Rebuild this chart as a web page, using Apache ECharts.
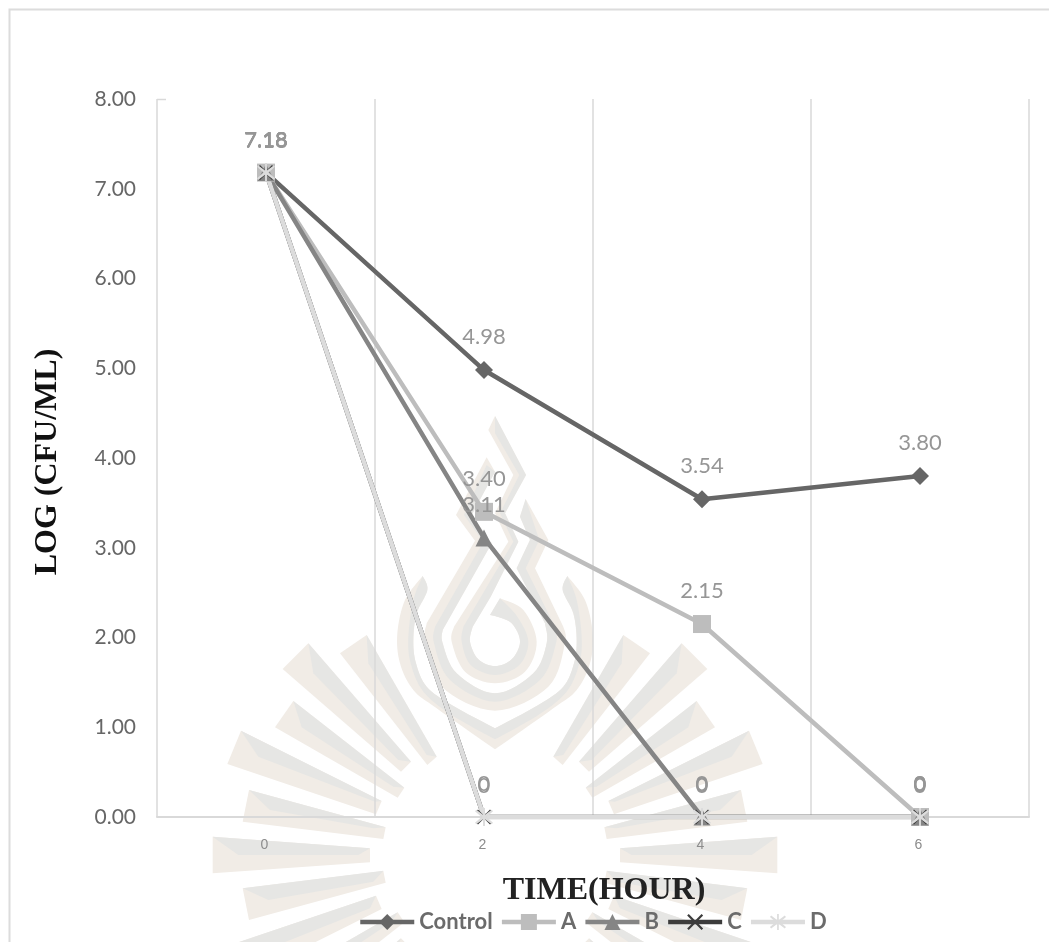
<!DOCTYPE html>
<html>
<head>
<meta charset="utf-8">
<style>html,body{margin:0;padding:0;background:#fff}#chart{width:1049px;height:942px}</style>
<script src="https://cdn.jsdelivr.net/npm/echarts@6/dist/echarts.min.js"></script>
</head>
<body>
<div id="chart"></div>
<script>
// Viable count over time for a control and four treatments
const hours = ['0', '2', '4', '6'];
const control = [7.18, 4.98, 3.54, 3.80];
const seriesA = [7.18, 3.40, 2.15, 0];
const seriesB = [7.18, 3.11, 0, 0];
const seriesC = [7.18, 0, 0, 0];
const seriesD = [7.18, 0, 0, 0];

const FONT = 'Lato, "Open Sans", sans-serif';
const BEIGE = '#f1ece6';
const GREY = '#e6e6e4';
const CENTER_X = 495;
const RAY_MID_Y = 855;

// Cross and asterisk markers, drawn as thin filled strokes
const CROSS = 'path://M1,0 L5,4 L9,0 L10,1 L6,5 L10,9 L9,10 L5,6 L1,10 L0,9 L4,5 L0,1 Z';
const STAR = 'path://M4.5,0 H5.5 V3.8 L9,1 L9.7,1.8 L6.3,5 L9.7,8.2 L9,9 L5.5,6.2 V10 H4.5 V6.2 L1,9 L0.3,8.2 L3.7,5 L0.3,1.8 L1,1 L4.5,3.8 Z';

// Emblem behind the plot: spline helper for its curved outlines
function spline(pts) {
  const steps = 8, out = [];
  for (let i = 0; i < pts.length - 1; i++) {
    const p0 = pts[Math.max(i - 1, 0)], p1 = pts[i], p2 = pts[i + 1], p3 = pts[Math.min(i + 2, pts.length - 1)];
    for (let k = 0; k < steps; k++) {
      const t = k / steps, t2 = t * t, t3 = t2 * t;
      out.push([0, 1].map(a => 0.5 * (2 * p1[a] + (p2[a] - p0[a]) * t + (2 * p0[a] - 5 * p1[a] + 4 * p2[a] - p3[a]) * t2 + (3 * p1[a] - p0[a] - 3 * p2[a] + p3[a]) * t3)));
    }
  }
  out.push(pts[pts.length - 1]);
  return out;
}
const flamePx = pts => pts.map(p => [380 + p[0] / 3, 400 + p[1] / 3]);
const rayPx = pts => pts.map(p => [200 + p[0] / 3, 620 + p[1] / 3]);
const mirrorX = pts => pts.map(p => [2 * CENTER_X - p[0], p[1]]);
const mirrorY = pts => pts.map(p => [p[0], 2 * RAY_MID_Y - p[1]]);
const poly = (points, fill) => ({ type: 'polygon', silent: true, shape: { points }, style: { fill } });

// Fan of rays: each is a beige wedge with a grey facet along its upper edge
const rays = [
  [[500,45],[420,100],[682,435],[710,410]],
  [[325,70],[248,147],[603,455],[633,425]],
  [[280,243],[225,322],[593,533],[613,503]],
  [[123,332],[82,432],[528,583],[545,543]],
  [[147,510],[128,605],[550,657],[557,622]],
  [[38,650],[38,760],[510,727],[510,685]]
];
const rayFacets = [
  [[500,45],[505,130],[680,405],[710,410]],
  [[325,70],[340,160],[595,420],[633,425]],
  [[280,243],[305,322],[580,500],[613,503]],
  [[123,332],[175,410],[525,545],[545,543]],
  [[147,510],[210,570],[520,625],[557,622]],
  [[38,650],[115,705],[475,705],[510,685]]
];
const lowerFacets = [
  [[128,805],[205,840],[520,785],[550,752]],
  [[82,978],[170,1000],[510,865],[528,827]],
  [[225,1088],[300,1090],[575,905],[593,877]],
  [[248,1263],[340,1250],[590,985],[603,955]]
];

function emblem() {
  const els = [];
  const addBoth = (pts, fill) => { els.push(poly(pts, fill), poly(mirrorX(pts), fill)); };
  rays.forEach((r, i) => {
    const body = rayPx(r);
    addBoth(body, BEIGE);
    addBoth(rayPx(rayFacets[i]), GREY);
    // the lower half of the fan repeats the upper wedges
    if (i >= 1 && i <= 4) addBoth(mirrorY(body), BEIGE);
  });
  lowerFacets.forEach(f => addBoth(rayPx(f), GREY));

  // Outer ring, two halves meeting at the lower point
  const ringOuter = [[128,528],[75,600],[52,700],[60,790],[100,870],[170,925],[345,1048]];
  const ringInner = [[345,985],[215,915],[140,860],[108,790],[100,720],[110,640],[142,570],[128,528]];
  const ringMid = [[128,528],[100,600],[85,710],[92,790],[130,875],[215,945],[345,1018]];
  addBoth(flamePx(spline(ringOuter).concat(spline(ringInner))), BEIGE);
  addBoth(flamePx(spline(ringMid).concat(spline(ringInner))), GREY);

  // Middle band of the flame
  const midOuter = [[437,297],[505,420],[465,505],[550,680]]
    .concat(spline([[550,680],[555,730],[505,860],[345,932],[185,860],[135,730],[140,670]]))
    .concat([[285,422],[228,345],[320,172]]);
  const midInner = [[345,215],[275,345],[335,430],[188,690]]
    .concat(spline([[188,690],[188,730],[230,820],[345,880],[460,820],[500,730],[495,670]]))
    .concat([[410,505],[450,420],[420,350],[437,297]]);
  const midFacet = [[437,297],[478,420],[437,505],[525,680]]
    .concat(spline([[525,680],[528,730],[480,840],[345,905],[210,840],[162,730],[165,680]]))
    .concat([[310,425],[252,345],[320,195]]);
  els.push(poly(flamePx(midOuter.concat(midInner)), BEIGE));
  els.push(poly(flamePx(midFacet.concat(midInner)), GREY));

  // Inner band: pointed tip at the top, spiral at the bottom
  const coreEdge = [[345,48],[438,225],[375,340],[415,425],[332,590],[278,680]]
    .concat(spline([[278,680],[270,725],[295,778],[345,798],[395,778],[420,725],[395,670],[345,648]]))
    .concat([[330,645],[360,595]]);
  const coreOuter = spline([[360,595],[430,630],[470,725],[435,815],[345,850],[255,815],[215,725],[222,680]])
    .concat([[385,425],[345,340],[400,225],[325,90]]);
  const coreMid = spline([[360,595],[412,650],[445,725],[418,795],[345,825],[272,795],[245,725],[250,680]])
    .concat([[400,425],[360,340],[418,225],[345,100]]);
  els.push(poly(flamePx(coreEdge.concat(coreOuter)), BEIGE));
  els.push(poly(flamePx(coreEdge.concat(coreMid)), GREY));
  return els;
}

function makeSeries(name, data, color, symbol, size) {
  return {
    name, type: 'line', data, symbol, symbolSize: size,
    lineStyle: { color, width: 4.5 },
    itemStyle: { color },
    label: {
      show: true, position: 'top', distance: 13,
      color: '#969696', fontFamily: FONT, fontSize: 22,
      formatter: p => (p.value === 0 ? '0' : p.value.toFixed(2))
    }
  };
}

const chart = echarts.init(document.getElementById('chart'), null, { renderer: 'canvas' });
chart.setOption({
  animation: false,
  backgroundColor: '#fff',
  graphic: {
    elements: [
      { type: 'group', z: -5, silent: true, children: emblem() },
      // Frame along the top and left of the figure
      { type: 'polyline', silent: true, z: -5, shape: { points: [[9.5, 942], [9.5, 9.5], [1049, 9.5]] },
        style: { stroke: '#dcdcdc', lineWidth: 2, fill: 'none' } },
      { type: 'line', silent: true, shape: { x1: 157, y1: 99.5, x2: 166, y2: 99.5 },
        style: { stroke: '#d9d9d9', lineWidth: 1.5 } }
    ]
  },
  grid: { left: 157, top: 99, width: 872, height: 718 },
  legend: {
    left: 353, top: 906, itemWidth: 54, itemHeight: 20, itemGap: 7,
    lineStyle: { width: 4.5 },
    textStyle: { color: '#6b6b6b', fontFamily: FONT, fontSize: 22, fontWeight: 'bold' },
    data: ['Control', 'A', 'B', 'C', 'D']
  },
  xAxis: {
    type: 'category', data: hours, boundaryGap: true,
    name: 'TIME(HOUR)', nameLocation: 'middle', nameGap: 58,
    nameTextStyle: { color: '#222', fontFamily: '"Liberation Serif", serif', fontWeight: 'bold', fontSize: 32, padding: [0, 0, 0, 22] },
    axisLine: { lineStyle: { color: '#d9d9d9', width: 2 } },
    axisTick: { show: false },
    axisLabel: { color: '#8c8c8c', fontFamily: '"Liberation Sans", sans-serif', fontSize: 14, margin: 21, padding: [0, 3, 0, 0] },
    splitLine: { show: true, lineStyle: { color: '#d9d9d9', width: 1.5 } }
  },
  yAxis: {
    type: 'value', min: 0, max: 8, interval: 1,
    name: 'LOG (CFU/ML)', nameLocation: 'middle', nameGap: 93, nameRotate: 90,
    nameTextStyle: { color: '#111', fontFamily: '"Liberation Serif", serif', fontWeight: 'bold', fontSize: 32, padding: [0, 8, 0, 0] },
    axisLine: { show: false }, axisTick: { show: false },
    splitLine: { show: false },
    axisLabel: {
      color: '#666', fontFamily: FONT, fontSize: 21, margin: 21,
      formatter: v => v.toFixed(2)
    }
  },
  series: [
    makeSeries('Control', control, '#666666', 'diamond', 18),
    makeSeries('A', seriesA, '#bdbdbd', 'rect', 18),
    makeSeries('B', seriesB, '#858585', 'triangle', 17),
    makeSeries('C', seriesC, '#3c3c3c', CROSS, 15),
    makeSeries('D', seriesD, '#dcdcdc', STAR, 18)
  ]
});
</script>
</body>
</html>
